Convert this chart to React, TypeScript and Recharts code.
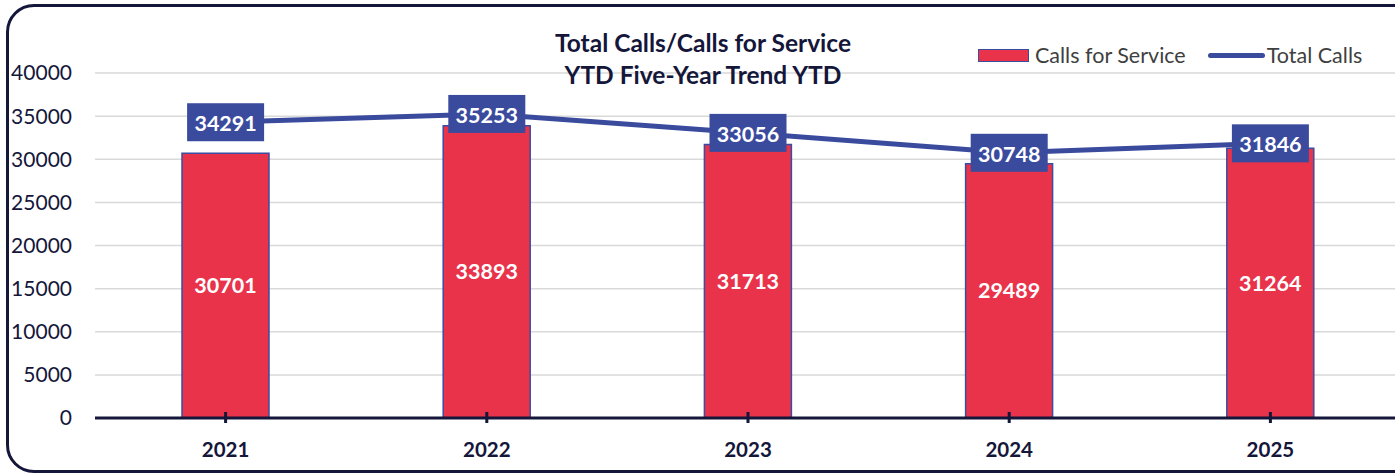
import {
  Bar,
  CartesianGrid,
  ComposedChart,
  LabelList,
  Line,
  XAxis,
  YAxis,
} from 'recharts'

const YEARS = ['2021', '2022', '2023', '2024', '2025']
const CALLS_FOR_SERVICE = [30701, 33893, 31713, 29489, 31264]
const TOTAL_CALLS = [34291, 35253, 33056, 30748, 31846]
const Y_TICKS = [0, 5000, 10000, 15000, 20000, 25000, 30000, 35000, 40000]

const NAVY = '#14163a'
const RED = '#e8334a'
const BLUE = '#3a4b9e'
const FONT = 'Lato, "Open Sans", sans-serif'

const data = YEARS.map((year, i) => ({
  year,
  service: CALLS_FOR_SERVICE[i],
  total: TOTAL_CALLS[i],
}))

function YearTick({ x, y, payload }: any) {
  return (
    <g>
      <line x1={x} x2={x} y1={y - 6} y2={y + 5} stroke={NAVY} strokeWidth={3} />
      <text
        x={x}
        y={y + 31}
        textAnchor="middle"
        dominantBaseline="central"
        fill={NAVY}
        fontWeight="bold"
        fontSize={20.5}
        fontFamily={FONT}
      >
        {payload.value}
      </text>
    </g>
  )
}

function TotalLabel({ x, y, value }: any) {
  const w = 77
  const h = 38
  return (
    <g>
      <rect x={x - w / 2} y={y - h / 2} width={w} height={h} fill={BLUE} />
      <text
        x={x}
        y={y + 1}
        textAnchor="middle"
        dominantBaseline="central"
        fill="#fff"
        fontWeight="bold"
        fontSize={21.5}
        fontFamily={FONT}
      >
        {value}
      </text>
    </g>
  )
}

export default function App() {
  return (
    <div
      style={{
        position: 'fixed',
        left: 0,
        top: 0,
        width: 1395,
        height: 474,
        overflow: 'hidden',
        background: '#fff',
        fontFamily: FONT,
      }}
    >
      <div
        style={{
          position: 'absolute',
          left: 6,
          top: 4,
          width: 1420,
          height: 463,
          border: `3px solid ${NAVY}`,
          borderRadius: 28,
        }}
      />
      <div style={{ position: 'absolute', left: 0, top: 0 }}>
        <ComposedChart
          width={1401}
          height={474}
          data={data}
          margin={{ top: 73, right: 0, bottom: 16, left: 0 }}
          barCategoryGap={0}
        >
          <CartesianGrid vertical={false} stroke="#d9d9d9" strokeWidth={1.5} />
          <XAxis
            dataKey="year"
            height={40}
            axisLine={{ stroke: NAVY, strokeWidth: 3 }}
            tickLine={false}
            tickSize={0}
            tickMargin={0}
            tick={<YearTick />}
            interval={0}
          />
          <YAxis
            width={95}
            domain={[0, 40000]}
            ticks={Y_TICKS}
            axisLine={false}
            tickLine={false}
            tickMargin={17}
            tick={{ fill: NAVY, fontSize: 21, fontFamily: FONT }}
            interval={0}
          />
          <Bar
            dataKey="service"
            fill={RED}
            stroke="#3b4da0"
            strokeWidth={1.5}
            barSize={87}
            isAnimationActive={false}
          >
            <LabelList
              dataKey="service"
              position="center"
              fill="#fff"
              fontWeight="bold"
              fontSize={21.5}
              fontFamily={FONT}
            />
          </Bar>
          <Line
            dataKey="total"
            stroke={BLUE}
            strokeWidth={5}
            dot={false}
            activeDot={false}
            isAnimationActive={false}
          >
            <LabelList dataKey="total" content={<TotalLabel />} />
          </Line>
        </ComposedChart>
      </div>
      <div
        style={{
          position: 'absolute',
          left: 403,
          top: 27,
          width: 600,
          textAlign: 'center',
          color: NAVY,
          fontWeight: 'bold',
          fontSize: 24.5,
          lineHeight: '32px',
        }}
      >
        <div>Total Calls/Calls for Service</div>
        <div>YTD Five-Year Trend YTD</div>
      </div>
      <div
        style={{
          position: 'absolute',
          left: 978,
          top: 41,
          display: 'flex',
          alignItems: 'center',
          fontSize: 21.5,
          color: '#404040',
          lineHeight: '28px',
          whiteSpace: 'nowrap',
        }}
      >
        <span
          style={{
            display: 'inline-block',
            width: 49,
            height: 11,
            background: RED,
            border: '1.5px solid #3b4da0',
            marginRight: 6,
          }}
        />
        <span>Calls for Service</span>
        <span
          style={{
            display: 'inline-block',
            width: 57,
            height: 5,
            background: BLUE,
            borderRadius: 3,
            marginLeft: 22,
            marginRight: 2,
          }}
        />
        <span>Total Calls</span>
      </div>
    </div>
  )
}
